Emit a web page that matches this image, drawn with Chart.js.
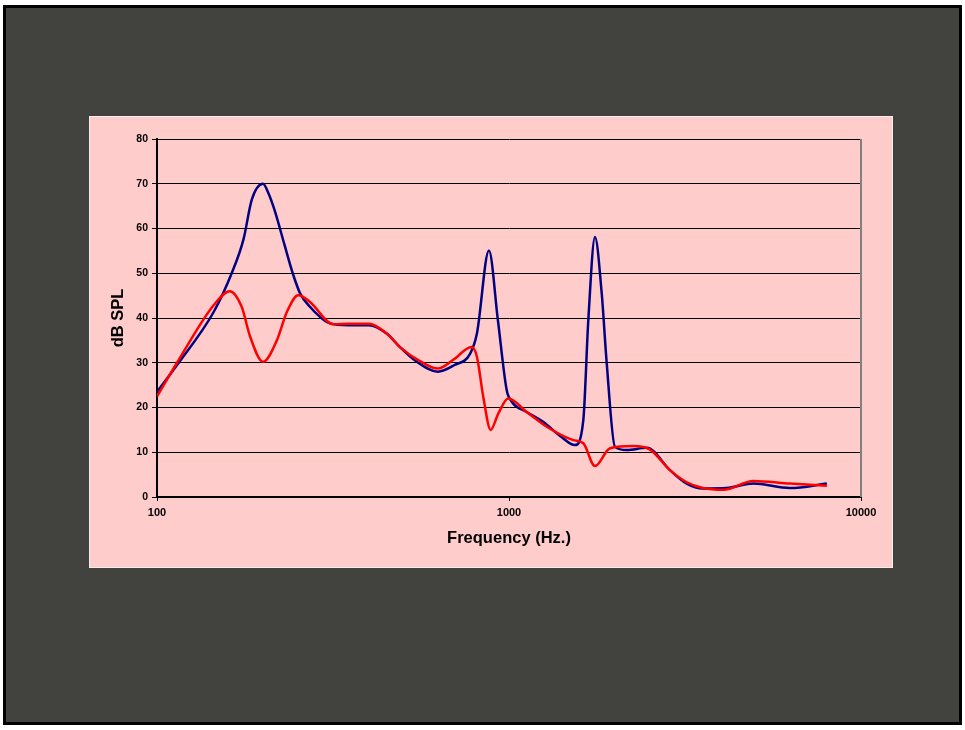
<!DOCTYPE html>
<html lang="en">
<head>
    <meta charset="UTF-8">
    <title>Frequency response</title>
    <script src="https://cdn.jsdelivr.net/npm/chart.js"></script>
    <style>
body {
    margin: 0;
    background: #ffffff;
}

#frame {
    position: absolute;
    left: 3px;
    top: 5px;
    width: 953px;
    height: 714px;
    border: 3px solid #000;
    background-color: #42423e;
}

#panel {
    position: absolute;
    left: 89px;
    top: 116px;
    width: 802px;
    height: 450px;
    border: 1px solid #f4eeee;
    background-color: #ffcccc;
}
    </style>
</head>
<body>
    <div id="frame"></div>
    <div id="panel">
        <canvas id="chart" width="802" height="450"></canvas>
    </div>

    <script>
        // blue curve
        const blueFreq = [100, 114, 145, 163, 176, 186, 200, 207, 216, 230, 243, 255, 272, 290, 310, 350, 400, 450, 490, 541, 628, 700, 775, 811, 877, 930, 985, 1018, 1122, 1250, 1400, 1540, 1626, 1680, 1755, 1834, 1895, 2000, 2160, 2462, 2866, 3197, 3558, 4152, 4945, 6285, 8000];
        const blueDb = [23.5, 29.5, 41.4, 50, 57.5, 66.5, 70, 68, 64, 56.5, 50, 45.5, 42.5, 40.3, 38.8, 38.4, 38.4, 36.5, 33.5, 30.5, 28, 29.5, 32, 36.6, 55.1, 39.5, 23.9, 21.3, 19, 16.8, 13.6, 11.6, 17.2, 39.5, 58.1, 45.5, 29.9, 11.2, 10.5, 11, 6, 3, 1.9, 2, 3, 2, 3];

        // red curve
        const redFreq = [100, 114, 145, 161, 174, 184, 200, 219, 234, 252, 272, 317, 350, 400, 450, 490, 560, 628, 693, 783, 811, 845, 887, 933, 995, 1122, 1280, 1523, 1626, 1755, 1936, 2256, 2516, 2866, 3197, 3558, 4062, 4945, 6285, 8000];
        const redDb = [22.5, 30, 42.9, 46, 42.5, 35.8, 30.2, 35, 41.4, 45.1, 43.6, 38.6, 38.7, 38.7, 36.5, 33.5, 30.3, 28.7, 30.6, 33.5, 31.3, 22.4, 15, 18.7, 22, 19, 15.7, 12.7, 12, 6.9, 10.9, 11.4, 10.6, 6, 3.3, 2, 1.6, 3.6, 3, 2.5];

        const xTicks = [100, 1000, 10000];
        const yMin = 0, yMax = 80, yStep = 10;

        const toPoints = (xs, ys) => xs.map((x, i) => ({ x: x, y: ys[i] }));

        const labelFont = { family: "'Liberation Sans', Arial, sans-serif", weight: 'bold' };

        // gray frame on the right side of the plot area
        const plotBorder = {
            id: 'plotBorder',
            beforeDatasetsDraw(chart) {
                const a = chart.chartArea;
                const ctx = chart.ctx;
                ctx.save();
                ctx.strokeStyle = '#808080';
                ctx.lineWidth = 2;
                ctx.beginPath();
                ctx.moveTo(a.right, a.top);
                ctx.lineTo(a.right, a.bottom);
                ctx.stroke();
                ctx.restore();
            }
        };

        new Chart(document.getElementById('chart'), {
            type: 'scatter',
            data: {
                datasets: [
                    // red first so it is drawn over the blue line
                    {
                        data: toPoints(redFreq, redDb),
                        showLine: true,
                        borderColor: '#ff0000',
                        borderWidth: 2.5,
                        pointRadius: 0,
                        cubicInterpolationMode: 'monotone'
                    },
                    {
                        data: toPoints(blueFreq, blueDb),
                        showLine: true,
                        borderColor: '#000080',
                        borderWidth: 2.5,
                        pointRadius: 0,
                        cubicInterpolationMode: 'monotone'
                    }
                ]
            },
            options: {
                responsive: false,
                animation: false,
                layout: { padding: { left: 0, top: 22, right: 31, bottom: 0 } },
                plugins: {
                    legend: { display: false },
                    tooltip: { enabled: false }
                },
                scales: {
                    x: {
                        type: 'logarithmic',
                        min: 100,
                        max: 10000,
                        afterBuildTicks: (scale) => {
                            scale.ticks = xTicks.map(v => ({ value: v }));
                        },
                        afterFit: (scale) => { scale.height = 70; },
                        grid: { drawOnChartArea: false, drawTicks: true, tickLength: 4, color: '#000' },
                        border: { color: '#000', width: 2 },
                        ticks: {
                            color: '#000',
                            padding: 5,
                            maxRotation: 0,
                            autoSkip: false,
                            font: Object.assign({ size: 11 }, labelFont),
                            callback: (v) => String(v)
                        },
                        title: {
                            display: true,
                            text: 'Frequency (Hz.)',
                            color: '#000',
                            padding: { top: 0, bottom: 19 },
                            font: Object.assign({ size: 16.5 }, labelFont)
                        }
                    },
                    y: {
                        min: yMin,
                        max: yMax,
                        afterFit: (scale) => { scale.width = 67; },
                        grid: { color: '#000', lineWidth: 1, tickLength: 5 },
                        border: { color: '#000', width: 2 },
                        ticks: {
                            stepSize: yStep,
                            color: '#000',
                            padding: 4,
                            font: Object.assign({ size: 10.5 }, labelFont)
                        },
                        title: {
                            display: true,
                            text: 'dB SPL',
                            color: '#000',
                            padding: { top: 19, bottom: 0 },
                            font: Object.assign({ size: 16.5 }, labelFont)
                        }
                    }
                }
            },
            plugins: [plotBorder]
        });
    </script>
</body>
</html>
